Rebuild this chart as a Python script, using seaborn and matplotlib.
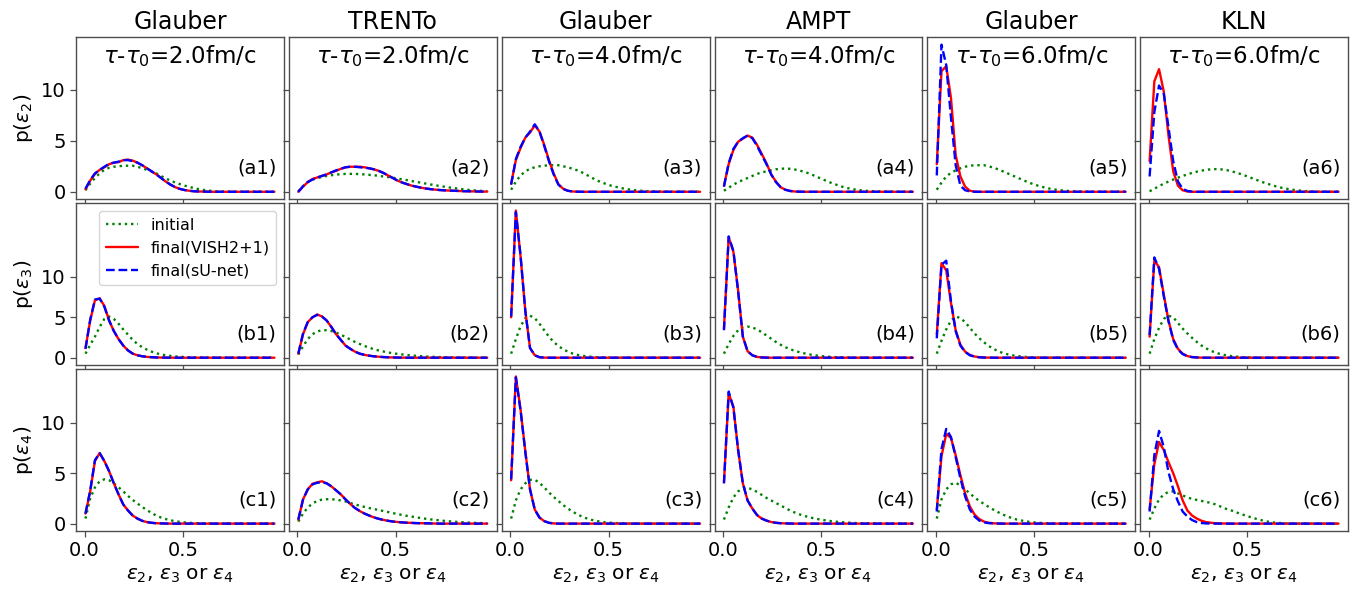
import numpy as np
import seaborn as sns
import matplotlib.pyplot as plt

# bin centres of the eccentricity histograms
eps = [0.005, 0.029, 0.053, 0.077, 0.101, 0.125, 0.149, 0.173, 0.197, 0.221,
       0.245, 0.269, 0.293, 0.317, 0.341, 0.365, 0.389, 0.413, 0.437, 0.461,
       0.485, 0.509, 0.533, 0.557, 0.581, 0.605, 0.629, 0.653, 0.677, 0.701,
       0.725, 0.749, 0.773, 0.797, 0.821, 0.845, 0.869, 0.893, 0.917, 0.941,
       0.965]

models = ["Glauber", "TRENTo", "Glauber", "AMPT", "Glauber", "KLN"]
times = ["2.0", "2.0", "4.0", "4.0", "6.0", "6.0"]
row_tags = ["a", "b", "c"]
ylabels = [r"p($\varepsilon_2$)", r"p($\varepsilon_3$)", r"p($\varepsilon_4$)"]

# ---- row a: eps2 ----
a1_init = [0.15, 0.8, 1.35, 1.8, 2.15, 2.35, 2.45, 2.5, 2.55, 2.55,
           2.55, 2.45, 2.3, 2.15, 2.0, 1.8, 1.55, 1.3, 1.1, 0.9,
           0.75, 0.6, 0.48, 0.36, 0.26, 0.18, 0.12, 0.07, 0.04, 0.02,
           0.01, 0, 0, 0, 0, 0, 0, 0, 0, 0,
           0]
a1_vish = [0.25, 1.1, 1.75, 2.15, 2.4, 2.7, 2.85, 2.9, 3.1, 3.15,
           3.05, 2.85, 2.6, 2.3, 2.0, 1.7, 1.35, 1.0, 0.7, 0.45,
           0.28, 0.17, 0.1, 0.05, 0.03, 0.02, 0.01, 0, 0, 0,
           0, 0, 0, 0, 0, 0, 0, 0, 0, 0,
           0]
a1_unet = [0.3, 1.15, 1.8, 2.15, 2.45, 2.75, 2.85, 2.95, 3.1, 3.1,
           3.0, 2.85, 2.6, 2.3, 2.0, 1.7, 1.35, 1.0, 0.7, 0.45,
           0.28, 0.17, 0.1, 0.05, 0.03, 0.02, 0.01, 0, 0, 0,
           0, 0, 0, 0, 0, 0, 0, 0, 0, 0,
           0]

a2_init = [0.05, 0.55, 0.95, 1.2, 1.35, 1.45, 1.55, 1.62, 1.68, 1.72,
           1.75, 1.75, 1.75, 1.73, 1.7, 1.66, 1.62, 1.56, 1.5, 1.44,
           1.38, 1.3, 1.22, 1.14, 1.05, 0.97, 0.89, 0.8, 0.72, 0.64,
           0.56, 0.49, 0.42, 0.36, 0.3, 0.24, 0.19, 0.15, 0.11, 0.08,
           0.06]
a2_vish = [0.0, 0.5, 0.95, 1.25, 1.4, 1.55, 1.7, 1.9, 2.05, 2.25,
           2.4, 2.45, 2.45, 2.45, 2.4, 2.3, 2.2, 2.05, 1.85, 1.6,
           1.35, 1.1, 0.9, 0.75, 0.6, 0.5, 0.4, 0.32, 0.26, 0.21,
           0.17, 0.14, 0.12, 0.1, 0.08, 0.06, 0.05, 0.04, 0.03, 0.02,
           0.02]
a2_unet = [0.0, 0.55, 0.95, 1.2, 1.4, 1.55, 1.7, 1.9, 2.1, 2.25,
           2.4, 2.45, 2.45, 2.4, 2.35, 2.3, 2.2, 2.05, 1.85, 1.6,
           1.35, 1.1, 0.9, 0.75, 0.6, 0.5, 0.4, 0.32, 0.26, 0.21,
           0.17, 0.14, 0.12, 0.1, 0.08, 0.06, 0.05, 0.04, 0.03, 0.02,
           0.02]

a3_init = [0.2, 1.0, 1.6, 2.0, 2.25, 2.4, 2.5, 2.55, 2.6, 2.6,
           2.6, 2.5, 2.4, 2.25, 2.1, 1.9, 1.65, 1.4, 1.15, 0.95,
           0.78, 0.62, 0.5, 0.4, 0.3, 0.23, 0.17, 0.12, 0.08, 0.06,
           0.04, 0.03, 0.02, 0.01, 0, 0, 0, 0, 0, 0,
           0]
a3_vish = [0.8, 3.1, 4.3, 5.3, 5.8, 6.5, 5.9, 4.6, 3.1, 1.8,
           0.75, 0.3, 0.1, 0.03, 0.01, 0, 0, 0, 0, 0,
           0, 0, 0, 0, 0, 0, 0, 0, 0, 0,
           0, 0, 0, 0, 0, 0, 0, 0, 0, 0,
           0]
a3_unet = [0.7, 3.2, 4.4, 5.3, 5.9, 6.6, 5.9, 4.5, 3.0, 1.7,
           0.7, 0.28, 0.1, 0.03, 0.01, 0, 0, 0, 0, 0,
           0, 0, 0, 0, 0, 0, 0, 0, 0, 0,
           0, 0, 0, 0, 0, 0, 0, 0, 0, 0,
           0]

a4_init = [0.1, 0.4, 0.7, 0.95, 1.15, 1.35, 1.55, 1.75, 1.9, 2.0,
           2.1, 2.2, 2.25, 2.28, 2.25, 2.18, 2.08, 1.95, 1.8, 1.6,
           1.4, 1.2, 1.0, 0.82, 0.66, 0.5, 0.38, 0.28, 0.2, 0.14,
           0.1, 0.07, 0.05, 0.03, 0.02, 0.01, 0, 0, 0, 0,
           0]
a4_vish = [0.6, 2.7, 4.1, 4.9, 5.2, 5.5, 5.3, 4.6, 3.7, 2.8,
           1.7, 1.0, 0.45, 0.2, 0.08, 0.03, 0.01, 0, 0, 0,
           0, 0, 0, 0, 0, 0, 0, 0, 0, 0,
           0, 0, 0, 0, 0, 0, 0, 0, 0, 0,
           0]
a4_unet = [0.5, 2.8, 4.2, 4.9, 5.25, 5.5, 5.25, 4.5, 3.6, 2.7,
           1.7, 0.95, 0.45, 0.2, 0.08, 0.03, 0.01, 0, 0, 0,
           0, 0, 0, 0, 0, 0, 0, 0, 0, 0,
           0, 0, 0, 0, 0, 0, 0, 0, 0, 0,
           0]

a5_init = [0.2, 0.9, 1.5, 1.85, 2.1, 2.3, 2.45, 2.55, 2.6, 2.6,
           2.6, 2.5, 2.35, 2.2, 2.0, 1.8, 1.6, 1.4, 1.2, 1.0,
           0.82, 0.66, 0.52, 0.4, 0.3, 0.22, 0.16, 0.11, 0.08, 0.05,
           0.03, 0.02, 0.01, 0, 0, 0, 0, 0, 0, 0,
           0]
a5_vish = [2.7, 11.8, 12.3, 9.2, 3.6, 1.5, 0.5, 0.1, 0.02, 0,
           0, 0, 0, 0, 0, 0, 0, 0, 0, 0,
           0, 0, 0, 0, 0, 0, 0, 0, 0, 0,
           0, 0, 0, 0, 0, 0, 0, 0, 0, 0,
           0]
a5_unet = [1.6, 14.4, 12.4, 7.3, 2.6, 0.6, 0.15, 0.03, 0, 0,
           0, 0, 0, 0, 0, 0, 0, 0, 0, 0,
           0, 0, 0, 0, 0, 0, 0, 0, 0, 0,
           0, 0, 0, 0, 0, 0, 0, 0, 0, 0,
           0]

a6_init = [0.05, 0.3, 0.55, 0.8, 1.0, 1.2, 1.38, 1.55, 1.7, 1.85,
           1.97, 2.07, 2.15, 2.2, 2.22, 2.2, 2.15, 2.05, 1.92, 1.78,
           1.62, 1.45, 1.27, 1.1, 0.93, 0.78, 0.63, 0.5, 0.39, 0.3,
           0.22, 0.16, 0.11, 0.07, 0.04, 0.02, 0.01, 0, 0, 0,
           0]
a6_vish = [3.0, 10.8, 12.0, 9.8, 5.5, 2.0, 0.6, 0.15, 0.03, 0,
           0, 0, 0, 0, 0, 0, 0, 0, 0, 0,
           0, 0, 0, 0, 0, 0, 0, 0, 0, 0,
           0, 0, 0, 0, 0, 0, 0, 0, 0, 0,
           0]
a6_unet = [1.5, 7.8, 10.4, 9.6, 6.3, 3.0, 1.0, 0.3, 0.08, 0.02,
           0, 0, 0, 0, 0, 0, 0, 0, 0, 0,
           0, 0, 0, 0, 0, 0, 0, 0, 0, 0,
           0, 0, 0, 0, 0, 0, 0, 0, 0, 0,
           0]

# ---- row b: eps3 ----
b1_init = [0.5, 1.6, 2.6, 3.8, 4.8, 5.1, 4.8, 4.2, 3.5, 2.85,
           2.2, 1.7, 1.3, 1.0, 0.75, 0.55, 0.4, 0.3, 0.22, 0.16,
           0.12, 0.08, 0.06, 0.04, 0.03, 0.02, 0.01, 0, 0, 0,
           0, 0, 0, 0, 0, 0, 0, 0, 0, 0,
           0]
b1_vish = [1.2, 4.6, 7.1, 7.35, 6.4, 4.6, 3.3, 2.3, 1.5, 0.9,
           0.5, 0.3, 0.18, 0.1, 0.06, 0.03, 0.02, 0.01, 0, 0,
           0, 0, 0, 0, 0, 0, 0, 0, 0, 0,
           0, 0, 0, 0, 0, 0, 0, 0, 0, 0,
           0]
b1_unet = [1.1, 4.7, 7.2, 7.3, 6.3, 4.6, 3.3, 2.3, 1.5, 0.9,
           0.5, 0.3, 0.18, 0.1, 0.06, 0.03, 0.02, 0.01, 0, 0,
           0, 0, 0, 0, 0, 0, 0, 0, 0, 0,
           0, 0, 0, 0, 0, 0, 0, 0, 0, 0,
           0]

b2_init = [0.4, 1.4, 2.3, 2.9, 3.25, 3.4, 3.4, 3.3, 3.1, 2.85,
           2.55, 2.25, 1.95, 1.7, 1.45, 1.25, 1.05, 0.9, 0.77, 0.65,
           0.55, 0.47, 0.4, 0.33, 0.28, 0.23, 0.19, 0.15, 0.12, 0.1,
           0.08, 0.06, 0.05, 0.04, 0.03, 0.02, 0.01, 0, 0, 0,
           0]
b2_vish = [0.5, 2.9, 4.4, 5.0, 5.35, 5.1, 4.6, 3.8, 2.9, 2.2,
           1.5, 1.1, 0.75, 0.5, 0.35, 0.25, 0.17, 0.12, 0.08, 0.05,
           0.03, 0.02, 0.01, 0, 0, 0, 0, 0, 0, 0,
           0, 0, 0, 0, 0, 0, 0, 0, 0, 0,
           0]
b2_unet = [0.5, 3.0, 4.4, 5.0, 5.3, 5.1, 4.6, 3.8, 2.9, 2.2,
           1.5, 1.1, 0.75, 0.5, 0.35, 0.25, 0.17, 0.12, 0.08, 0.05,
           0.03, 0.02, 0.01, 0, 0, 0, 0, 0, 0, 0,
           0, 0, 0, 0, 0, 0, 0, 0, 0, 0,
           0]

b3_init = [0.5, 2.3, 3.9, 4.9, 5.2, 4.9, 4.2, 3.4, 2.6, 1.95,
           1.45, 1.05, 0.75, 0.52, 0.36, 0.25, 0.17, 0.11, 0.07, 0.04,
           0.02, 0.01, 0, 0, 0, 0, 0, 0, 0, 0,
           0, 0, 0, 0, 0, 0, 0, 0, 0, 0,
           0]
b3_vish = [5.0, 18.2, 12.5, 5.8, 1.2, 0.3, 0.06, 0.01, 0, 0,
           0, 0, 0, 0, 0, 0, 0, 0, 0, 0,
           0, 0, 0, 0, 0, 0, 0, 0, 0, 0,
           0, 0, 0, 0, 0, 0, 0, 0, 0, 0,
           0]
b3_unet = [5.1, 18.0, 12.6, 5.8, 1.2, 0.3, 0.06, 0.01, 0, 0,
           0, 0, 0, 0, 0, 0, 0, 0, 0, 0,
           0, 0, 0, 0, 0, 0, 0, 0, 0, 0,
           0, 0, 0, 0, 0, 0, 0, 0, 0, 0,
           0]

b4_init = [0.5, 1.7, 2.7, 3.4, 3.75, 3.85, 3.75, 3.5, 3.15, 2.75,
           2.35, 1.95, 1.6, 1.3, 1.05, 0.85, 0.68, 0.54, 0.42, 0.32,
           0.24, 0.18, 0.13, 0.09, 0.06, 0.04, 0.02, 0.01, 0, 0,
           0, 0, 0, 0, 0, 0, 0, 0, 0, 0,
           0]
b4_vish = [3.6, 14.9, 13.1, 8.3, 2.6, 0.8, 0.3, 0.1, 0.03, 0.01,
           0, 0, 0, 0, 0, 0, 0, 0, 0, 0,
           0, 0, 0, 0, 0, 0, 0, 0, 0, 0,
           0, 0, 0, 0, 0, 0, 0, 0, 0, 0,
           0]
b4_unet = [3.4, 15.0, 13.2, 8.2, 2.6, 0.8, 0.3, 0.1, 0.03, 0.01,
           0, 0, 0, 0, 0, 0, 0, 0, 0, 0,
           0, 0, 0, 0, 0, 0, 0, 0, 0, 0,
           0, 0, 0, 0, 0, 0, 0, 0, 0, 0,
           0]

b5_init = [0.5, 2.1, 3.5, 4.6, 5.1, 4.9, 4.4, 3.7, 3.0, 2.4,
           1.9, 1.45, 1.1, 0.8, 0.58, 0.42, 0.3, 0.21, 0.14, 0.09,
           0.06, 0.04, 0.02, 0.01, 0, 0, 0, 0, 0, 0,
           0, 0, 0, 0, 0, 0, 0, 0, 0, 0,
           0]
b5_vish = [2.9, 11.7, 10.8, 6.8, 3.4, 1.6, 0.75, 0.35, 0.15, 0.06,
           0.02, 0.01, 0, 0, 0, 0, 0, 0, 0, 0,
           0, 0, 0, 0, 0, 0, 0, 0, 0, 0,
           0, 0, 0, 0, 0, 0, 0, 0, 0, 0,
           0]
b5_unet = [2.4, 11.5, 12.0, 7.0, 3.3, 1.5, 0.7, 0.3, 0.12, 0.05,
           0.02, 0.01, 0, 0, 0, 0, 0, 0, 0, 0,
           0, 0, 0, 0, 0, 0, 0, 0, 0, 0,
           0, 0, 0, 0, 0, 0, 0, 0, 0, 0,
           0]

b6_init = [0.5, 2.3, 3.7, 4.8, 5.2, 5.0, 4.3, 3.6, 3.0, 2.45,
           1.95, 1.5, 1.15, 0.85, 0.62, 0.45, 0.32, 0.22, 0.15, 0.1,
           0.06, 0.04, 0.02, 0.01, 0, 0, 0, 0, 0, 0,
           0, 0, 0, 0, 0, 0, 0, 0, 0, 0,
           0]
b6_vish = [2.6, 12.0, 11.2, 7.8, 4.6, 2.3, 1.1, 0.5, 0.2, 0.08,
           0.03, 0.01, 0, 0, 0, 0, 0, 0, 0, 0,
           0, 0, 0, 0, 0, 0, 0, 0, 0, 0,
           0, 0, 0, 0, 0, 0, 0, 0, 0, 0,
           0]
b6_unet = [2.8, 12.4, 11.0, 7.6, 4.5, 2.2, 1.0, 0.45, 0.18, 0.07,
           0.03, 0.01, 0, 0, 0, 0, 0, 0, 0, 0,
           0, 0, 0, 0, 0, 0, 0, 0, 0, 0,
           0, 0, 0, 0, 0, 0, 0, 0, 0, 0,
           0]

# ---- row c: eps4 ----
c1_init = [0.5, 2.5, 3.6, 4.2, 4.4, 4.3, 4.0, 3.6, 3.2, 2.75,
           2.35, 2.0, 1.65, 1.35, 1.05, 0.8, 0.6, 0.45, 0.33, 0.24,
           0.17, 0.12, 0.08, 0.05, 0.03, 0.02, 0.01, 0, 0, 0,
           0, 0, 0, 0, 0, 0, 0, 0, 0, 0,
           0]
c1_vish = [1.0, 3.2, 6.2, 7.0, 6.2, 5.2, 4.0, 2.9, 1.9, 1.3,
           0.8, 0.5, 0.28, 0.15, 0.08, 0.04, 0.02, 0.01, 0, 0,
           0, 0, 0, 0, 0, 0, 0, 0, 0, 0,
           0, 0, 0, 0, 0, 0, 0, 0, 0, 0,
           0]
c1_unet = [1.0, 3.3, 6.3, 7.0, 6.2, 5.2, 4.0, 2.9, 1.9, 1.3,
           0.8, 0.5, 0.28, 0.15, 0.08, 0.04, 0.02, 0.01, 0, 0,
           0, 0, 0, 0, 0, 0, 0, 0, 0, 0,
           0, 0, 0, 0, 0, 0, 0, 0, 0, 0,
           0]

c2_init = [0.2, 1.0, 1.6, 2.0, 2.25, 2.38, 2.42, 2.42, 2.38, 2.3,
           2.2, 2.05, 1.9, 1.78, 1.66, 1.55, 1.45, 1.35, 1.25, 1.15,
           1.05, 0.95, 0.86, 0.77, 0.7, 0.62, 0.55, 0.48, 0.42, 0.37,
           0.32, 0.27, 0.23, 0.19, 0.16, 0.13, 0.1, 0.08, 0.06, 0.05,
           0.04]
c2_vish = [0.4, 2.4, 3.4, 3.95, 4.1, 4.2, 4.0, 3.7, 3.3, 2.9,
           2.4, 1.95, 1.55, 1.25, 1.0, 0.8, 0.62, 0.48, 0.37, 0.28,
           0.21, 0.16, 0.12, 0.09, 0.07, 0.05, 0.04, 0.03, 0.02, 0.01,
           0, 0, 0, 0, 0, 0, 0, 0, 0, 0,
           0]
c2_unet = [0.4, 2.4, 3.4, 3.9, 4.05, 4.1, 4.0, 3.7, 3.3, 2.9,
           2.4, 1.95, 1.55, 1.25, 1.0, 0.8, 0.62, 0.48, 0.37, 0.28,
           0.21, 0.16, 0.12, 0.09, 0.07, 0.05, 0.04, 0.03, 0.02, 0.01,
           0, 0, 0, 0, 0, 0, 0, 0, 0, 0,
           0]

c3_init = [0.5, 2.3, 3.4, 4.0, 4.35, 4.35, 4.05, 3.6, 3.1, 2.65,
           2.25, 1.85, 1.5, 1.2, 0.92, 0.7, 0.52, 0.38, 0.27, 0.19,
           0.13, 0.09, 0.06, 0.04, 0.02, 0.01, 0, 0, 0, 0,
           0, 0, 0, 0, 0, 0, 0, 0, 0, 0,
           0]
c3_vish = [4.3, 14.6, 11.3, 7.2, 3.4, 1.4, 0.6, 0.25, 0.08, 0.02,
           0, 0, 0, 0, 0, 0, 0, 0, 0, 0,
           0, 0, 0, 0, 0, 0, 0, 0, 0, 0,
           0, 0, 0, 0, 0, 0, 0, 0, 0, 0,
           0]
c3_unet = [4.4, 14.5, 11.2, 7.1, 3.4, 1.4, 0.6, 0.25, 0.08, 0.02,
           0, 0, 0, 0, 0, 0, 0, 0, 0, 0,
           0, 0, 0, 0, 0, 0, 0, 0, 0, 0,
           0, 0, 0, 0, 0, 0, 0, 0, 0, 0,
           0]

c4_init = [0.4, 1.6, 2.6, 3.2, 3.5, 3.55, 3.4, 3.15, 2.85, 2.55,
           2.3, 2.05, 1.8, 1.55, 1.3, 1.1, 0.92, 0.77, 0.64, 0.53,
           0.44, 0.36, 0.29, 0.23, 0.18, 0.14, 0.11, 0.08, 0.06, 0.04,
           0.03, 0.02, 0.01, 0, 0, 0, 0, 0, 0, 0,
           0]
c4_vish = [4.1, 12.9, 11.6, 7.3, 4.0, 2.3, 1.5, 0.85, 0.5, 0.3,
           0.16, 0.08, 0.04, 0.02, 0.01, 0, 0, 0, 0, 0,
           0, 0, 0, 0, 0, 0, 0, 0, 0, 0,
           0, 0, 0, 0, 0, 0, 0, 0, 0, 0,
           0]
c4_unet = [4.0, 13.1, 11.5, 7.3, 4.0, 2.3, 1.5, 0.85, 0.5, 0.3,
           0.16, 0.08, 0.04, 0.02, 0.01, 0, 0, 0, 0, 0,
           0, 0, 0, 0, 0, 0, 0, 0, 0, 0,
           0, 0, 0, 0, 0, 0, 0, 0, 0, 0,
           0]

c5_init = [0.5, 2.4, 3.4, 3.9, 4.05, 3.8, 3.4, 3.0, 2.6, 2.25,
           1.95, 1.65, 1.38, 1.13, 0.9, 0.7, 0.53, 0.4, 0.3, 0.22,
           0.15, 0.1, 0.07, 0.04, 0.02, 0.01, 0, 0, 0, 0,
           0, 0, 0, 0, 0, 0, 0, 0, 0, 0,
           0]
c5_vish = [1.4, 6.7, 8.9, 8.5, 6.8, 4.8, 3.0, 1.7, 0.9, 0.45,
           0.2, 0.08, 0.03, 0.01, 0, 0, 0, 0, 0, 0,
           0, 0, 0, 0, 0, 0, 0, 0, 0, 0,
           0, 0, 0, 0, 0, 0, 0, 0, 0, 0,
           0]
c5_unet = [1.2, 7.4, 9.4, 8.6, 6.6, 4.5, 2.7, 1.4, 0.7, 0.3,
           0.12, 0.05, 0.02, 0.01, 0, 0, 0, 0, 0, 0,
           0, 0, 0, 0, 0, 0, 0, 0, 0, 0,
           0, 0, 0, 0, 0, 0, 0, 0, 0, 0,
           0]

c6_init = [0.4, 1.5, 2.4, 2.9, 3.15, 3.2, 3.0, 2.8, 2.6, 2.45,
           2.35, 2.25, 2.15, 2.05, 1.9, 1.7, 1.5, 1.35, 1.2, 1.0,
           0.85, 0.7, 0.55, 0.42, 0.3, 0.2, 0.13, 0.08, 0.05, 0.03,
           0.02, 0.01, 0, 0, 0, 0, 0, 0, 0, 0,
           0]
c6_vish = [1.4, 5.9, 8.1, 7.3, 6.1, 5.0, 3.7, 2.3, 1.3, 0.8,
           0.5, 0.28, 0.15, 0.08, 0.04, 0.02, 0.01, 0, 0, 0,
           0, 0, 0, 0, 0, 0, 0, 0, 0, 0,
           0, 0, 0, 0, 0, 0, 0, 0, 0, 0,
           0]
c6_unet = [1.2, 6.8, 9.2, 7.6, 5.1, 3.4, 2.2, 1.2, 0.7, 0.35,
           0.15, 0.06, 0.02, 0.01, 0, 0, 0, 0, 0, 0,
           0, 0, 0, 0, 0, 0, 0, 0, 0, 0,
           0, 0, 0, 0, 0, 0, 0, 0, 0, 0,
           0]

panels = [
    [(a1_init, a1_vish, a1_unet), (a2_init, a2_vish, a2_unet), (a3_init, a3_vish, a3_unet),
     (a4_init, a4_vish, a4_unet), (a5_init, a5_vish, a5_unet), (a6_init, a6_vish, a6_unet)],
    [(b1_init, b1_vish, b1_unet), (b2_init, b2_vish, b2_unet), (b3_init, b3_vish, b3_unet),
     (b4_init, b4_vish, b4_unet), (b5_init, b5_vish, b5_unet), (b6_init, b6_vish, b6_unet)],
    [(c1_init, c1_vish, c1_unet), (c2_init, c2_vish, c2_unet), (c3_init, c3_vish, c3_unet),
     (c4_init, c4_vish, c4_unet), (c5_init, c5_vish, c5_unet), (c6_init, c6_vish, c6_unet)],
]

sns.set_theme(style="ticks")
plt.rcParams.update({
    "font.family": ["DejaVu Sans"],
    "text.color": "black",
    "axes.labelcolor": "black",
    "axes.edgecolor": "0.3",
    "axes.linewidth": 1.0,
    "xtick.color": "0.3",
    "ytick.color": "0.3",
    "xtick.labelcolor": "black",
    "ytick.labelcolor": "black",
    "xtick.major.size": 4,
    "ytick.major.size": 4,
    "xtick.major.width": 0.9,
    "ytick.major.width": 0.9,
    "xtick.labelsize": 14,
    "ytick.labelsize": 14,
    "axes.labelsize": 14.5,
    "axes.titlesize": 17,
    "mathtext.fontset": "dejavusans",
})

fig, axes = plt.subplots(3, 6, figsize=(13.53, 5.89), dpi=100, sharex=True, sharey="row")
fig.subplots_adjust(left=0.0562, right=0.9963, top=0.9367, bottom=0.0985,
                    wspace=0.024, hspace=0.025)

styles = [("initial", "green", ":"), ("final(VISH2+1)", "red", "-"), ("final(sU-net)", "blue", "--")]

for r in range(3):
    for c in range(6):
        ax = axes[r, c]
        for vals, (lab, col, ls) in zip(panels[r][c], styles):
            assert len(vals) == len(eps), (r, c, lab, len(vals))
            sns.lineplot(x=eps, y=vals, ax=ax, color=col, linestyle=ls,
                         linewidth=1.7, label=lab, legend=False)
        ax.text(0.965, 0.19, f"({row_tags[r]}{c + 1})", transform=ax.transAxes,
                ha="right", va="center", fontsize=14)
        ax.set_yticks([0, 5, 10])
        ax.set_xticks([0.0, 0.5])
        ax.set_xticklabels(["0.0", "0.5"])
        if r == 0:
            ax.set_title(models[c])
            ax.text(0.5, 0.885, rf"$\tau$-$\tau_0$={times[c]}fm/c", transform=ax.transAxes,
                    ha="center", va="center", fontsize=16.5)
        if r == 2:
            ax.set_xlabel(r"$\varepsilon_2$, $\varepsilon_3$ or $\varepsilon_4$")
        else:
            ax.set_xlabel("")
        if c == 0:
            ax.set_ylabel(ylabels[r])
        else:
            ax.set_ylabel("")
        for sp in ax.spines.values():
            sp.set_visible(True)

axes[1, 0].legend(loc="upper right", fontsize=11.5, frameon=True, edgecolor="0.8",
                  fancybox=True, framealpha=0.8)

plt.savefig("out.png", dpi=100)
